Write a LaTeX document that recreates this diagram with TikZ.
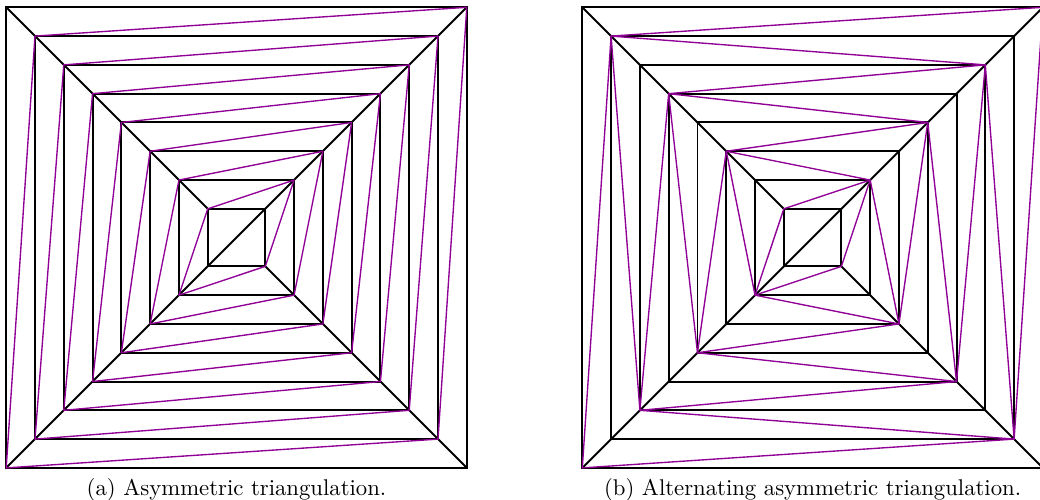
\documentclass[tikz,border=0pt]{standalone}
\definecolor{triviolet}{RGB}{145,0,150}
\begin{document}
\begin{tikzpicture}[x=0.44pt,y=-0.44pt,
  sq/.style={line width=0.85pt,black},
  tri/.style={line width=0.6pt,triviolet,line join=round},
  captext/.style={anchor=base,inner sep=0pt,font=\normalsize}]
\useasboundingbox (0,0) rectangle (1040,499);
\clip (0,0) rectangle (1040,499);
% corner coordinates of the nested squares
\foreach \k in {0,...,7} {
  \pgfmathsetmacro\d{\k*28.79}
  \pgfmathsetmacro\e{460.6-\k*28.79}
  % left figure
  \coordinate (A\k tl) at (6.2+\d,7.3+\d);
  \coordinate (A\k tr) at (6.2+\e,7.3+\d);
  \coordinate (A\k br) at (6.2+\e,7.3+\e);
  \coordinate (A\k bl) at (6.2+\d,7.3+\e);
  % right figure
  \coordinate (B\k tl) at (582.3+\d,7.3+\d);
  \coordinate (B\k tr) at (582.3+\e,7.3+\d);
  \coordinate (B\k br) at (582.3+\e,7.3+\e);
  \coordinate (B\k bl) at (582.3+\d,7.3+\e);
}
% black squares and corner connectors
\foreach \F in {A,B} {
  \foreach \k in {0,...,7} {
    \draw[sq] (\F\k tl) -- (\F\k tr) -- (\F\k br) -- (\F\k bl) -- cycle;
  }
  \foreach \k in {0,...,6} {
    \pgfmathtruncatemacro\j{\k+1}
    \draw[sq] (\F\k tl) -- (\F\j tl);
    \draw[sq] (\F\k tr) -- (\F\j tr);
    \draw[sq] (\F\k br) -- (\F\j br);
    \draw[sq] (\F\k bl) -- (\F\j bl);
  }
  \draw[sq] (\F7bl) -- (\F7tr);
}
% purple triangulation, left: asymmetric
\foreach \k in {0,...,6} {
  \pgfmathtruncatemacro\j{\k+1}
  \draw[tri] (A\j tl) -- (A\k tr) -- (A\j br) -- (A\k bl) -- cycle;
}
% purple triangulation, right: alternating
\foreach \k in {0,2,4,6} {
  \pgfmathtruncatemacro\j{\k+1}
  \draw[tri] (B\j tl) -- (B\k tr) -- (B\j br) -- (B\k bl) -- cycle;
}
\foreach \k in {1,3,5} {
  \pgfmathtruncatemacro\j{\k+1}
  \draw[tri] (B\k tl) -- (B\j tr) -- (B\k br) -- (B\j bl) -- cycle;
}
% captions
\node[captext] (capa) at (236.5,495) {(a) Asymmetric triangulation.};
\node[captext] (capb) at (812.6,495) {(b) Alternating asymmetric triangulation.};
\end{tikzpicture}
\end{document}
